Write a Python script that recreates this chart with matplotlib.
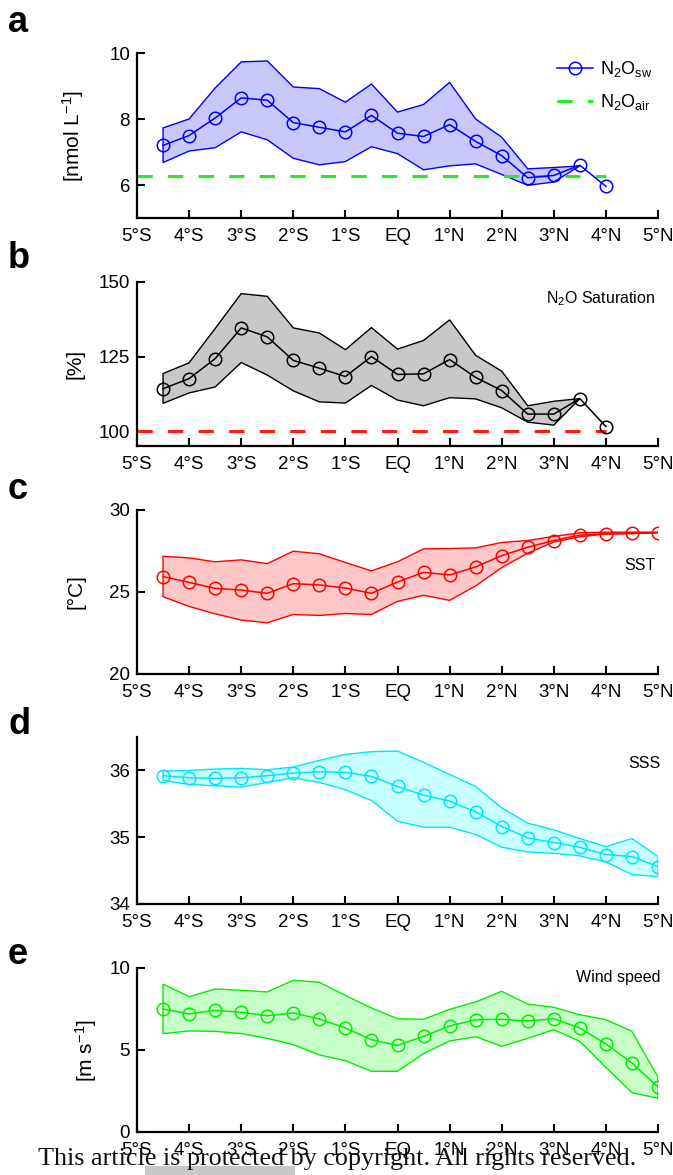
import matplotlib
matplotlib.use("Agg")
import matplotlib.pyplot as plt
from matplotlib.patches import Polygon, Rectangle
import numpy as np

plt.rcParams['font.family'] = ['Liberation Sans', 'DejaVu Sans']
plt.rcParams['mathtext.fontset'] = 'custom'
plt.rcParams['mathtext.rm'] = 'Liberation Sans'
plt.rcParams['mathtext.it'] = 'Liberation Sans'
plt.rcParams['mathtext.bf'] = 'Liberation Sans:bold'

# ---------------- data ----------------
xtick_pos = [-5, -4, -3, -2, -1, 0, 1, 2, 3, 4, 5]
xtick_labels = ['5°S', '4°S', '3°S', '2°S', '1°S', 'EQ', '1°N', '2°N', '3°N', '4°N', '5°N']

lat_a = [-4.5, -4, -3.5, -3, -2.5, -2, -1.5, -1, -0.5, 0, 0.5, 1, 1.5, 2, 2.5, 3, 3.5, 4]
n2o_sw = [7.20, 7.50, 8.03, 8.64, 8.57, 7.89, 7.75, 7.61, 8.11, 7.57, 7.47, 7.83, 7.32, 6.89, 6.22, 6.29, 6.60, 5.96]
lat_a_band = [-4.5, -4, -3.5, -3, -2.5, -2, -1.5, -1, -0.5, 0, 0.5, 1, 1.5, 2, 2.5, 3, 3.5]
n2o_sw_hi = [7.73, 8.00, 8.94, 9.73, 9.76, 8.97, 8.92, 8.51, 9.06, 8.21, 8.44, 9.11, 8.00, 7.45, 6.49, 6.53, 6.58]
n2o_sw_lo = [6.68, 7.03, 7.13, 7.61, 7.37, 6.81, 6.61, 6.71, 7.16, 6.95, 6.46, 6.58, 6.64, 6.32, 5.99, 6.09, 6.58]
n2o_air = 6.27

sat = [114.2, 117.6, 124.3, 134.6, 131.6, 123.7, 121.1, 118.3, 125.0, 119.0, 119.2, 124.0, 118.0, 113.6, 105.7, 105.7, 110.9, 101.5]
sat_hi = [119.3, 122.9, 134.4, 146.1, 145.2, 134.6, 132.9, 127.3, 134.7, 127.5, 130.4, 137.3, 125.4, 120.1, 108.5, 110.0, 110.9]
sat_lo = [109.3, 112.8, 114.8, 123.0, 118.8, 113.5, 109.8, 109.4, 115.3, 110.4, 108.5, 111.2, 110.8, 107.8, 103.0, 102.0, 110.9]
sat_eq = 100.0

lat_c = [-4.5, -4, -3.5, -3, -2.5, -2, -1.5, -1, -0.5, 0, 0.5, 1, 1.5, 2, 2.5, 3, 3.5, 4, 4.5, 5]
sst = [25.94, 25.59, 25.22, 25.12, 24.92, 25.51, 25.43, 25.24, 24.92, 25.61, 26.20, 26.04, 26.53, 27.22, 27.73, 28.14, 28.47, 28.55, 28.57, 28.61]
sst_hi = [27.18, 27.08, 26.84, 26.96, 26.73, 27.49, 27.33, 26.80, 26.29, 26.84, 27.63, 27.65, 27.69, 28.02, 28.14, 28.39, 28.61, 28.65, 28.65, 28.65]
sst_lo = [24.71, 24.12, 23.67, 23.29, 23.12, 23.63, 23.57, 23.69, 23.63, 24.43, 24.80, 24.49, 25.37, 26.49, 27.37, 28.04, 28.37, 28.53, 28.57, 28.61]

sss = [35.92, 35.89, 35.88, 35.89, 35.92, 35.96, 35.98, 35.97, 35.91, 35.76, 35.63, 35.54, 35.38, 35.16, 34.99, 34.92, 34.85, 34.74, 34.71, 34.56]
sss_hi = [35.99, 36.00, 36.02, 36.03, 36.01, 36.05, 36.15, 36.24, 36.28, 36.29, 36.12, 35.94, 35.76, 35.44, 35.21, 35.11, 34.98, 34.86, 34.98, 34.71]
sss_lo = [35.85, 35.79, 35.77, 35.75, 35.82, 35.89, 35.82, 35.71, 35.55, 35.24, 35.15, 35.15, 35.04, 34.85, 34.78, 34.76, 34.72, 34.63, 34.44, 34.41]

wind = [7.50, 7.20, 7.42, 7.30, 7.09, 7.26, 6.89, 6.34, 5.63, 5.28, 5.83, 6.46, 6.85, 6.87, 6.77, 6.91, 6.34, 5.37, 4.21, 2.74]
wind_hi = [9.02, 8.25, 8.72, 8.64, 8.54, 9.25, 9.13, 8.33, 7.56, 6.91, 6.87, 7.48, 7.93, 8.58, 7.80, 7.60, 7.15, 6.85, 6.14, 3.35]
wind_lo = [6.00, 6.16, 6.14, 6.00, 5.71, 5.33, 4.70, 4.35, 3.70, 3.70, 4.78, 5.55, 5.81, 5.22, 5.71, 6.24, 5.53, 3.94, 2.40, 2.05]

# ---------------- figure ----------------
W, H = 673, 1175
fig = plt.figure(figsize=(W / 100, H / 100), dpi=100)

left = 137 / W
width = (658 - 137) / W
panels_px = [(53, 218), (282, 446), (510, 674), (737, 904), (968, 1132)]
axes = []
for top, bot in panels_px:
    ax = fig.add_axes([left, 1 - bot / H, width, (bot - top) / H])
    axes.append(ax)

TICK_FS = 13.5


def style(ax, ylim, yticks):
    ax.set_xlim(-5, 5)
    ax.set_ylim(*ylim)
    ax.set_xticks(xtick_pos)
    ax.set_xticklabels(xtick_labels)
    ax.set_yticks(yticks)
    for s in ['top', 'right']:
        ax.spines[s].set_visible(False)
    for s in ['left', 'bottom']:
        ax.spines[s].set_linewidth(1.6)
    ax.tick_params(direction='in', length=6, width=1.5, labelsize=TICK_FS, pad=5)
    ax.tick_params(axis='x', pad=7)
    ax.set_facecolor('none')


def band(ax, x, lo, hi, color, fill):
    xs = list(x) + list(x)[::-1]
    ys = list(hi) + list(lo)[::-1]
    poly = Polygon(np.column_stack([xs, ys]), closed=True, facecolor=fill,
                   edgecolor=color, linewidth=1.0, zorder=1)
    ax.add_patch(poly)


def series(ax, x, y, color, label=None):
    return ax.plot(x, y, '-', color=color, lw=1.1, marker='o', ms=9,
                   mfc='none', mec=color, mew=1.1, zorder=3, label=label)


# a
ax = axes[0]
band(ax, lat_a_band, n2o_sw_lo, n2o_sw_hi, '#0000ff', '#c8c8fa')
series(ax, lat_a, n2o_sw, '#0000ff', label='N$_2$O$_{sw}$')
ax.plot([-5, 4], [n2o_air, n2o_air], color='#22ee22', lw=2.2, ls=(0, (5, 5)), zorder=2,
        label='N$_2$O$_{air}$')
style(ax, (5, 10), [6, 8, 10])
ax.set_ylabel('[nmol L$^{-1}$]', fontsize=15, labelpad=17)
leg = ax.legend(loc='upper right', bbox_to_anchor=(1.02, 1.06), frameon=False,
                fontsize=13, handlelength=2.0, handletextpad=0.4, labelspacing=0.7)

# b
ax = axes[1]
band(ax, lat_a_band, sat_lo, sat_hi, '#000000', '#c8c8c8')
series(ax, lat_a, sat, '#000000')
ax.plot([-5, 4], [sat_eq, sat_eq], color='#ff1a1a', lw=2.2, ls=(0, (5, 5)), zorder=2)
style(ax, (95, 150), [100, 125, 150])
ax.set_ylabel('[%]', fontsize=15, labelpad=10)
ax.text(0.995, 0.90, 'N$_2$O Saturation', transform=ax.transAxes, ha='right', va='center',
        fontsize=11.5)

# c
ax = axes[2]
band(ax, lat_c, sst_lo, sst_hi, '#ff0000', '#ffc8c8')
series(ax, lat_c, sst, '#ff0000')
style(ax, (20, 30), [20, 25, 30])
ax.set_ylabel('[°C]', fontsize=15, labelpad=17)
ax.text(0.995, 0.66, 'SST', transform=ax.transAxes, ha='right', va='center', fontsize=11.5)

# d
ax = axes[3]
band(ax, lat_c, sss_lo, sss_hi, '#00e5ff', '#c8ffff')
series(ax, lat_c, sss, '#00e5ff')
style(ax, (34, 36.5), [34, 35, 36])
ax.text(1.005, 0.84, 'SSS', transform=ax.transAxes, ha='right', va='center', fontsize=11.5)

# e
ax = axes[4]
band(ax, lat_c, wind_lo, wind_hi, '#00ee00', '#c8ffc8')
series(ax, lat_c, wind, '#00ee00')
style(ax, (0, 10), [0, 5, 10])
ax.set_ylabel('[m s$^{-1}$]', fontsize=15, labelpad=7)
ax.text(1.005, 0.94, 'Wind speed', transform=ax.transAxes, ha='right', va='center', fontsize=11.5)

# panel letters
for letter, ypx in zip('abcde', [22, 258, 490, 725, 955]):
    fig.text(8 / W, 1 - ypx / H, letter, fontsize=26, fontweight='bold', ha='left', va='center')

# footer
fig.patches.append(Rectangle((145 / W, 0), 150 / W, 9 / H, transform=fig.transFigure,
                             facecolor='#c8c8c8', edgecolor='none', zorder=0))
fig.text(337 / W, 1 - 1159 / H, 'This article is protected by copyright. All rights reserved.',
         family=['Liberation Serif', 'DejaVu Serif'], fontsize=18.8, ha='center', va='center',
         color='#111111')

fig.savefig('out.png', dpi=100)
